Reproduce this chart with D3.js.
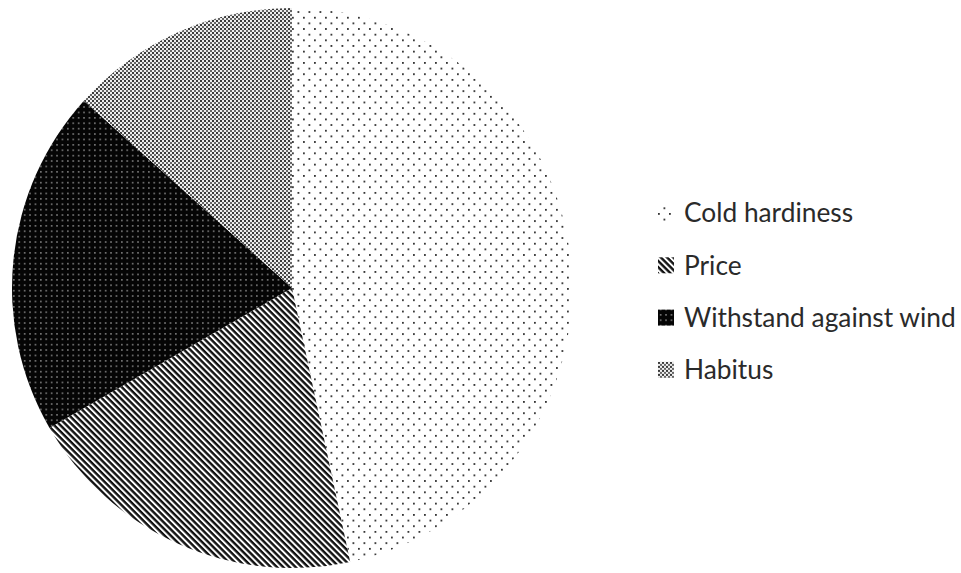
<!DOCTYPE html>
<html>
<head>
<meta charset="utf-8">
<script src="https://cdn.jsdelivr.net/npm/d3@7"></script>
<style>
  body { margin: 0; background: #fff; }
  svg { display: block; }
</style>
</head>
<body>
<div id="chart"></div>
<script>
    const categories = ["Cold hardiness", "Price", "Withstand against wind", "Habitus"];
    const values = [7, 3, 3, 2];
    const patternIds = ["patCold", "patPrice", "patWind", "patHabitus"];

    const width = 961, height = 573;
    const svg = d3.select("#chart").append("svg")
        .attr("width", width)
        .attr("height", height);

    const defs = svg.append("defs");

    // sparse dots on white
    const pCold = defs.append("pattern")
        .attr("id", "patCold")
        .attr("patternUnits", "userSpaceOnUse")
        .attr("width", 11).attr("height", 11.3);
    pCold.append("rect").attr("width", 11).attr("height", 11.3).attr("fill", "#fff");
    pCold.append("rect").attr("x", 0).attr("y", 0).attr("width", 1.8).attr("height", 1.8).attr("fill", "#333");
    pCold.append("rect").attr("x", 5.5).attr("y", 5.65).attr("width", 1.8).attr("height", 1.8).attr("fill", "#333");

    // dark downward diagonal stripes
    const pPrice = defs.append("pattern")
        .attr("id", "patPrice")
        .attr("patternUnits", "userSpaceOnUse")
        .attr("width", 8).attr("height", 4.4)
        .attr("patternTransform", "rotate(45)");
    pPrice.append("rect").attr("width", 8).attr("height", 4.4).attr("fill", "#fff");
    pPrice.append("rect").attr("width", 8).attr("height", 2.4).attr("fill", "#111");

    // black with light dots
    const pWind = defs.append("pattern")
        .attr("id", "patWind")
        .attr("patternUnits", "userSpaceOnUse")
        .attr("width", 5.4).attr("height", 5.4);
    pWind.append("rect").attr("width", 5.4).attr("height", 5.4).attr("fill", "#050505");
    pWind.append("rect").attr("x", 2).attr("y", 2).attr("width", 1.3).attr("height", 1.3).attr("fill", "#bbb");

    // fine grey mesh
    const pHab = defs.append("pattern")
        .attr("id", "patHabitus")
        .attr("patternUnits", "userSpaceOnUse")
        .attr("width", 4).attr("height", 4);
    pHab.append("rect").attr("width", 4).attr("height", 4).attr("fill", "#eee");
    pHab.append("rect").attr("x", 0).attr("y", 0).attr("width", 2).attr("height", 2).attr("fill", "#3a3a3a");
    pHab.append("rect").attr("x", 2).attr("y", 2).attr("width", 2).attr("height", 2).attr("fill", "#666");

    const data = categories.map((c, i) => ({ name: c, value: values[i], pat: patternIds[i] }));

    const cx = 292, cy = 288, radius = 280;

    const pie = d3.pie()
        .sort(null)
        .value(d => d.value);

    const arc = d3.arc()
        .innerRadius(0)
        .outerRadius(radius);

    const g = svg.append("g")
        .attr("transform", `translate(${cx},${cy})`);

    g.selectAll(".slice")
        .data(pie(data))
        .enter()
        .append("path")
            .attr("class", "slice")
            .attr("d", arc)
            .attr("fill", d => `url(#${d.data.pat})`);

    // legend
    const legend = svg.append("g")
        .attr("transform", "translate(658,213)");

    const item = legend.selectAll(".item")
        .data(data)
        .enter()
        .append("g")
            .attr("class", "item")
            .attr("transform", (d, i) => `translate(0,${i * 52.3})`);

    item.append("rect")
        .attr("x", 0)
        .attr("y", -8)
        .attr("width", 16)
        .attr("height", 16)
        .attr("fill", d => `url(#${d.pat})`);

    item.append("text")
        .attr("x", 26)
        .attr("y", 0)
        .attr("dy", "0.35em")
        .style("font-family", "Lato, 'Open Sans', sans-serif")
        .style("font-size", "26.3px")
        .style("fill", "#2a2a2a")
        .text(d => d.name);
</script>
</body>
</html>
